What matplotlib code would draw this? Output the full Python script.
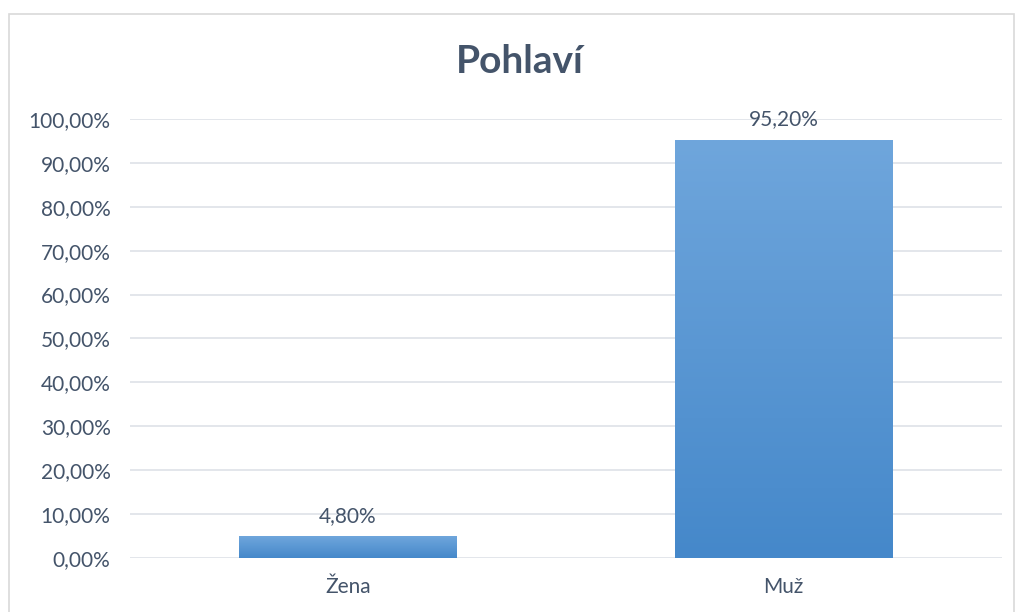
import matplotlib.pyplot as plt
import numpy as np
from matplotlib.colors import LinearSegmentedColormap
from matplotlib.patches import Rectangle

categories = ["Žena", "Muž"]
values = [4.8, 95.2]
yticks = [0, 10, 20, 30, 40, 50, 60, 70, 80, 90, 100]

plt.rcParams['font.family'] = ['Lato', 'DejaVu Sans']
text_color = "#44546A"
grid_color = "#E1E4E9"

fig = plt.figure(figsize=(10.2, 6.12), dpi=100)
ax = fig.add_axes([0.1275, 0.0882, 0.8545, 0.7174])

# outer chart frame
fig.patches.append(Rectangle((0.009, -0.01), 0.985, 0.987, transform=fig.transFigure,
                             fill=False, edgecolor="#D9D9D9", linewidth=1.2))

x = np.arange(len(categories))
bars = ax.bar(x, values, width=0.5, color="none", zorder=3)

# gradient fill for each bar, light at top, darker at bottom
cmap = LinearSegmentedColormap.from_list("blue_grad", ["#4588CA", "#6FA6DC"])
grad = np.linspace(0, 1, 256).reshape(-1, 1)
for b in bars:
    x0, y0 = b.get_x(), b.get_y()
    w, h = b.get_width(), b.get_height()
    ax.imshow(grad, cmap=cmap, aspect="auto", origin="lower",
              extent=(x0, x0 + w, y0, y0 + h), zorder=3)

for xi, v in zip(x, values):
    ax.annotate(f"{v:.2f}%".replace(".", ","), (xi, v), xytext=(0, 8),
                textcoords="offset points", ha="center", va="bottom",
                fontsize=15, color=text_color, zorder=4)

ax.set_xlim(-0.5, 1.5)
ax.set_ylim(0, 100)
ax.set_xticks(x)
ax.set_xticklabels(categories)
ax.set_yticks(yticks)
ax.set_yticklabels([f"{t:.2f}%".replace(".", ",") for t in yticks])
ax.tick_params(axis="both", length=0, labelsize=15, labelcolor=text_color)
ax.tick_params(axis="x", pad=14)
ax.tick_params(axis="y", pad=14)
ax.yaxis.grid(True, color=grid_color, linewidth=1.3, zorder=0)
ax.set_axisbelow(True)
for s in ax.spines.values():
    s.set_visible(False)

fig.text(0.5098, 0.899, "Pohlaví", ha="center", va="center", fontsize=28,
         fontweight="bold", color=text_color)

fig.savefig("out.png", dpi=100)
